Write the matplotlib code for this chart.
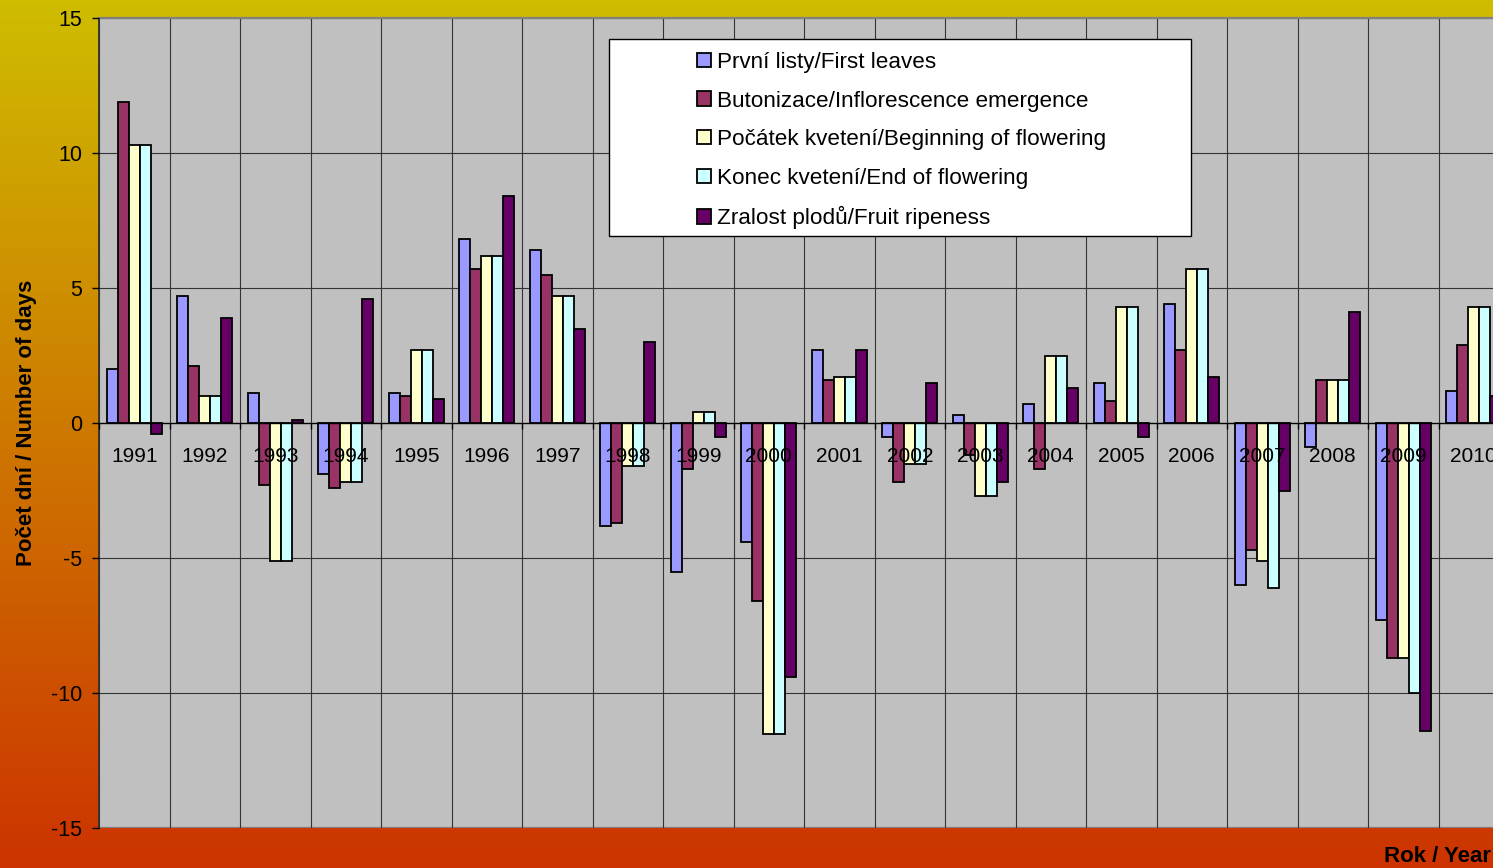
from __future__ import annotations

import matplotlib

matplotlib.use("Agg")
import matplotlib.pyplot as plt
import numpy as np
from matplotlib.colors import LinearSegmentedColormap
from matplotlib.patches import Patch, Rectangle


YEARS = [str(y) for y in range(1991, 2011)]

FIRST_LEAVES = [2.0, 4.7, 1.1, -1.9, 1.1, 6.8, 6.4, -3.8, -5.5, -4.4,
                2.7, -0.5, 0.3, 0.7, 1.5, 4.4, -6.0, -0.9, -7.3, 1.2]
INFLORESCENCE = [11.9, 2.1, -2.3, -2.4, 1.0, 5.7, 5.5, -3.7, -1.7, -6.6,
                 1.6, -2.2, -1.2, -1.7, 0.8, 2.7, -4.7, 1.6, -8.7, 2.9]
FLOWERING_START = [10.3, 1.0, -5.1, -2.2, 2.7, 6.2, 4.7, -1.6, 0.4, -11.5,
                   1.7, -1.5, -2.7, 2.5, 4.3, 5.7, -5.1, 1.6, -8.7, 4.3]
FLOWERING_END = [10.3, 1.0, -5.1, -2.2, 2.7, 6.2, 4.7, -1.6, 0.4, -11.5,
                 1.7, -1.5, -2.7, 2.5, 4.3, 5.7, -6.1, 1.6, -10.0, 4.3]
RIPENESS = [-0.4, 3.9, 0.1, 4.6, 0.9, 8.4, 3.5, 3.0, -0.5, -9.4,
            2.7, 1.5, -2.2, 1.3, -0.5, 1.7, -2.5, 4.1, -11.4, 1.0]

SERIES = [
    ("První listy/First leaves", FIRST_LEAVES, "#9999ff"),
    ("Butonizace/Inflorescence emergence", INFLORESCENCE, "#993366"),
    ("Počátek kvetení/Beginning of flowering", FLOWERING_START, "#ffffcc"),
    ("Konec kvetení/End of flowering", FLOWERING_END, "#ccffff"),
    ("Zralost plodů/Fruit ripeness", RIPENESS, "#660066"),
]

Y_TICKS = [-15, -10, -5, 0, 5, 10, 15]

W, H = 1493, 868


def fx(px: float) -> float:
    return px / W


def fy(py: float) -> float:
    return 1 - py / H


def main() -> None:
    plt.rcParams["font.family"] = ["Liberation Sans", "DejaVu Sans"]
    plt.rcParams["axes.unicode_minus"] = False
    fig = plt.figure(figsize=(W / 100, H / 100), dpi=100)

    # yellow -> red background gradient
    bg = fig.add_axes([0, 0, 1, 1], zorder=-10)
    cmap = LinearSegmentedColormap.from_list("fire", ["#cfbd00", "#cc3300"])
    bg.imshow(np.linspace(0, 1, 256).reshape(-1, 1), cmap=cmap, aspect="auto")
    bg.axis("off")

    ax = fig.add_axes([fx(99), fy(828), fx(1509 - 99), fy(18) - fy(828)])
    ax.set_facecolor("#c0c0c0")
    ax.set_axisbelow(False)

    n = len(YEARS)
    x = np.arange(n)
    width = 0.156
    for k, (label, values, color) in enumerate(SERIES):
        ax.bar(x + (k - 2) * width, values, width, color=color, edgecolor="black",
               linewidth=1.3, zorder=2, label=label)

    for y in Y_TICKS:
        if abs(y) == 15:
            ax.axhline(y, color="#808080", linewidth=1.6, zorder=0.5)
        elif y != 0:
            ax.axhline(y, color="#333333", linewidth=0.8, zorder=0.5)
    for b in np.arange(n + 1) - 0.5:
        ax.axvline(b, color="#333333", linewidth=0.8, zorder=0.5)

    ax.set_xlim(-0.5, n - 0.5)
    ax.set_ylim(-15, 15)
    ax.set_yticks(Y_TICKS)
    ax.tick_params(axis="y", direction="out", length=5, width=1, pad=7,
                   labelsize=15.5, colors="black")

    ax.spines["bottom"].set_position(("data", 0))
    ax.spines["bottom"].set_linewidth(1.0)
    ax.spines["left"].set_color("#303030")
    ax.spines["left"].set_linewidth(1.3)
    ax.spines["top"].set_color("#808080")
    ax.spines["top"].set_linewidth(1.6)
    ax.spines["right"].set_visible(False)

    ax.set_xticks(np.arange(n + 1) - 0.5)
    ax.set_xticklabels([])
    ax.set_xticks(x, minor=True)
    ax.set_xticklabels(YEARS, minor=True)
    ax.tick_params(axis="x", which="major", direction="out", length=4, width=1)
    ax.tick_params(axis="x", which="minor", length=0, pad=17.5, labelsize=15)

    # legend: white box with the entries indented as in the original
    fig.patches.append(Rectangle((fx(609), fy(236)), fx(1191 - 609), fy(39) - fy(236),
                                 transform=fig.transFigure, facecolor="white",
                                 edgecolor="black", linewidth=1.0, zorder=5))
    handles = [Patch(facecolor=c, edgecolor="black", linewidth=1.3) for _, _, c in SERIES]
    leg = fig.legend(handles, [s[0] for s in SERIES], loc="upper left",
                     bbox_to_anchor=(fx(697), fy(52)), frameon=False, fontsize=16.2,
                     handlelength=0.6, handleheight=0.6, handletextpad=0.3,
                     labelspacing=0.78, borderpad=0, borderaxespad=0)
    leg.set_zorder(6)

    fig.text(fx(27), fy(423), "Počet dní / Number of days", rotation=90,
             ha="center", va="center", fontsize=16, fontweight="bold")
    fig.text(fx(1491), fy(857), "Rok / Year", ha="right", va="center",
             fontsize=16, fontweight="bold")

    fig.savefig("out.png", dpi=100)
    plt.close(fig)


if __name__ == "__main__":
    main()
